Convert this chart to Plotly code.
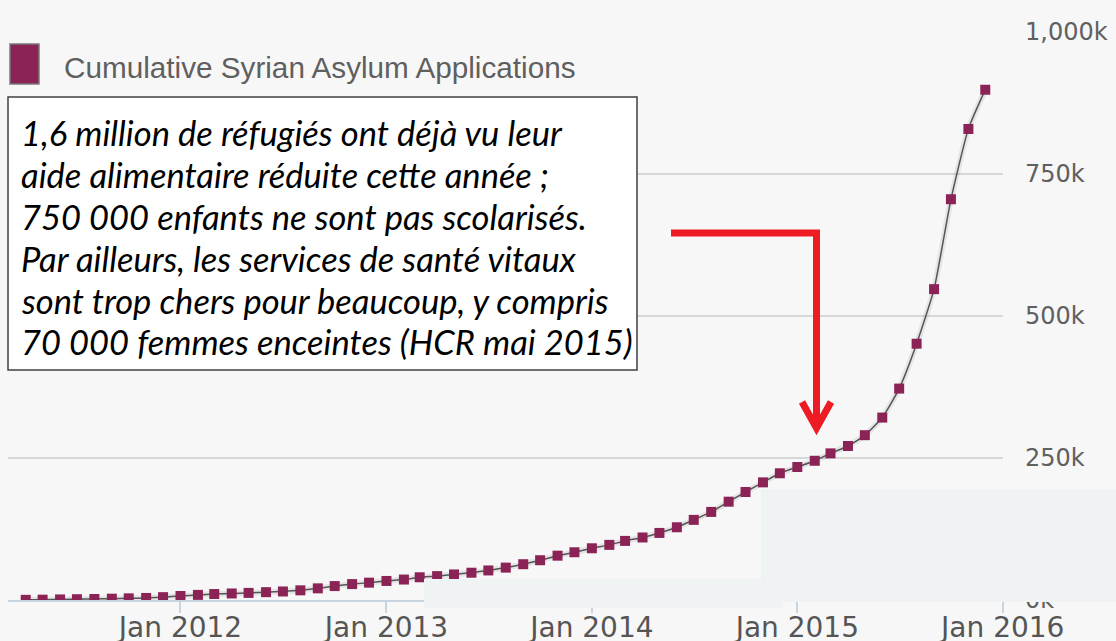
import plotly.graph_objects as go

W, H = 1116, 641

# ---- data (thousands of cumulative applications, monthly) ----
months = (
    [f"2011-{m:02d}-01" for m in range(4, 13)]
    + [f"{y}-{m:02d}-01" for y in (2012, 2013, 2014, 2015) for m in range(1, 13)]
)
values_k = [
    0.3, 0.6, 1.0, 1.4, 1.8, 2.3, 2.9, 3.6, 5.0,                       # 2011 Apr-Dec
    7.0, 9.0, 10.5, 11.5, 12.5, 13.8, 15.0, 17.0, 20.5, 24.5, 28.0, 30.5,  # 2012
    33.5, 36.0, 40.0, 42.0, 45.0, 48.0, 52.0, 57.0, 63.0, 70.0, 78.0, 84.0,  # 2013
    91.0, 97.0, 104.0, 110.0, 118.0, 128.0, 141.0, 155.0, 173.0, 190.0, 207.0, 223.0,  # 2014
    234.0, 245.0, 258.0, 271.0, 290.0, 321.0, 372.0, 451.0, 547.0, 705.0, 829.0, 898.0,  # 2015
]
values = [v * 1000 for v in values_k]

series_name = "Cumulative Syrian Asylum Applications"
x_tick_vals = ["2012-01-01", "2013-01-01", "2014-01-01", "2015-01-01", "2016-01-01"]
x_tick_text = ["Jan 2012", "Jan 2013", "Jan 2014", "Jan 2015", "Jan 2016"]
y_tick_vals = [0, 250000, 500000, 750000, 1000000]
y_tick_text = ["0k", "250k", "500k", "750k", "1,000k"]

note_lines = [
    "1,6 million de réfugiés ont déjà vu leur",
    "aide alimentaire réduite cette année ;",
    "750 000 enfants ne sont pas scolarisés.",
    "Par ailleurs, les services de santé vitaux",
    "sont trop chers pour beaucoup, y compris",
    "70 000 femmes enceintes (HCR mai 2015)",
]

MAROON = "#8b2357"
RED = "#ed1c24"
BG = "#f7f7f7"
OVERLAY = "#eff3f3"


def px(x):
    return x / W


def py(y):
    return (H - y) / H


fig = go.Figure()

# soft shadow under the line
fig.add_trace(go.Scatter(
    x=months, y=values, mode="lines",
    line=dict(color="rgba(0,0,0,0.07)", width=6, shape="spline", smoothing=0.5),
    hoverinfo="skip", showlegend=False,
))
fig.add_trace(go.Scatter(
    x=months, y=values, mode="lines+markers", name=series_name,
    line=dict(color="#555555", width=1.5, shape="spline", smoothing=0.5),
    marker=dict(symbol="square", size=10, color=MAROON),
    showlegend=False,
))

shapes = []
# partial overlays present in the source picture
shapes.append(dict(type="rect", xref="paper", yref="paper", layer="above",
                   x0=px(761), x1=px(1116), y0=py(602), y1=py(489),
                   fillcolor=OVERLAY, line=dict(width=0)))
shapes.append(dict(type="rect", xref="paper", yref="paper", layer="above",
                   x0=px(424), x1=px(783), y0=py(608), y1=py(579),
                   fillcolor=OVERLAY, line=dict(width=0)))
# legend swatch
shapes.append(dict(type="rect", xref="paper", yref="paper", layer="above",
                   x0=px(10), x1=px(39), y0=py(84), y1=py(44),
                   fillcolor=MAROON, line=dict(color="#7a7a7a", width=1.5)))
# note box
shapes.append(dict(type="rect", xref="paper", yref="paper", layer="above",
                   x0=px(8), x1=px(637), y0=py(370), y1=py(97),
                   fillcolor="white", line=dict(color="#404040", width=1.5)))
# red elbow arrow
shapes.append(dict(type="path", xref="paper", yref="paper", layer="above",
                   path=f"M {px(671)},{py(233)} L {px(816.5)},{py(233)} L {px(816.5)},{py(428)}",
                   line=dict(color=RED, width=7)))
shapes.append(dict(type="path", xref="paper", yref="paper", layer="above",
                   path=f"M {px(802)},{py(402)} L {px(816.5)},{py(428)} L {px(831)},{py(402)}",
                   line=dict(color=RED, width=7)))

annotations = [
    dict(xref="paper", yref="paper", x=px(62), y=py(68), xanchor="left", yanchor="middle",
         text=series_name, showarrow=False,
         font=dict(family="Liberation Sans, Arial", size=29.7, color="#5f5f5f")),
]
for i, line in enumerate(note_lines):
    annotations.append(dict(
        xref="paper", yref="paper", x=px(19), y=py(133 + i * 41.8),
        xanchor="left", yanchor="middle", align="left", text=line, showarrow=False,
        font=dict(family="Lato", size=34.5, color="black", style="italic"),
    ))

fig.update_layout(
    width=W, height=H,
    margin=dict(l=0, r=0, t=0, b=0, pad=0),
    paper_bgcolor=BG, plot_bgcolor=BG,
    shapes=shapes, annotations=annotations,
    showlegend=False,
    xaxis=dict(
        type="date", domain=[px(8), px(1003)],
        range=["2011-02-28 12:00", "2016-01-01 12:00"],
        tickvals=x_tick_vals, ticktext=x_tick_text,
        showgrid=False, zeroline=False,
        showline=True, linecolor="#c8d4e0", linewidth=2,
        ticks="outside", ticklen=11, tickwidth=2, tickcolor="#c8d4e0",
        ticklabelstandoff=-10,
        tickfont=dict(family="DejaVu Sans", size=28, color="#555555"),
        automargin=False, fixedrange=True,
    ),
    yaxis=dict(
        domain=[py(600), py(31.7)], range=[0, 1000000],
        side="right",
        tickvals=y_tick_vals, ticktext=y_tick_text,
        showgrid=True, gridcolor="#d8d8d8", gridwidth=1.5,
        zeroline=False, showline=False, ticks="",
        ticklabelstandoff=21,
        tickfont=dict(family="DejaVu Sans", size=24, color="#606060"),
        automargin=False, fixedrange=True,
    ),
)

fig.write_html("out.html")
